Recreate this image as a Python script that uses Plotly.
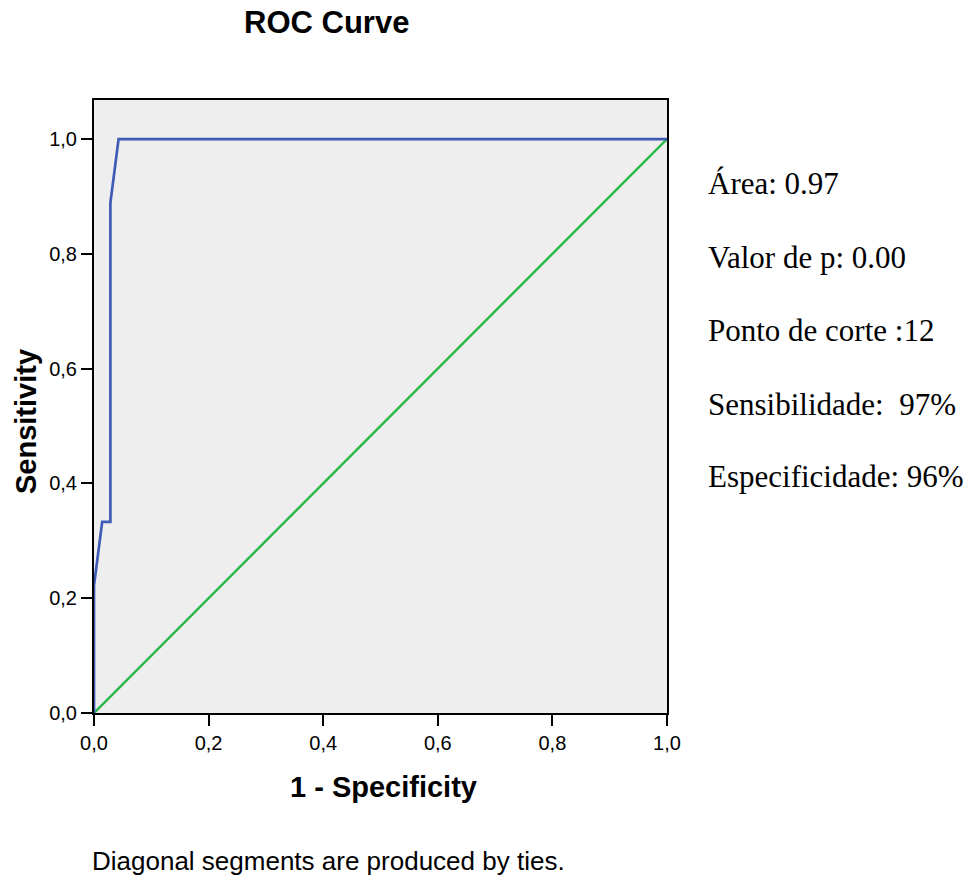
import plotly.graph_objects as go

# ROC curve data (1 - specificity, sensitivity)
roc_fpr = [0.0, 0.0, 0.0143, 0.0286, 0.0286, 0.0429, 1.0]
roc_tpr = [0.0, 0.222, 0.333, 0.333, 0.889, 1.0, 1.0]
ref_x = [0.0, 1.0]
ref_y = [0.0, 1.0]
tick_vals = [0.0, 0.2, 0.4, 0.6, 0.8, 1.0]
tick_text = ["0,0", "0,2", "0,4", "0,6", "0,8", "1,0"]
stats_lines = ["Área: 0.97", "Valor de p: 0.00", "Ponto de corte :12",
               "Sensibilidade:  97%", "Especificidade: 96%"]

fig = go.Figure()
fig.add_trace(go.Scatter(x=ref_x, y=ref_y, mode="lines",
                         line=dict(color="#2DB84A", width=2.5), showlegend=False,
                         hoverinfo="skip"))
fig.add_trace(go.Scatter(x=roc_fpr, y=roc_tpr, mode="lines",
                         line=dict(color="#3F5BB5", width=2.7), showlegend=False))

axis_common = dict(showline=True, linecolor="black", linewidth=2, mirror=True,
                   ticks="outside", ticklen=11, tickwidth=2, tickcolor="black",
                   showgrid=False, zeroline=False,
                   tickvals=tick_vals, ticktext=tick_text,
                   tickfont=dict(family="Arial, Liberation Sans", size=20, color="black"))

fig.update_layout(
    width=972, height=879,
    margin=dict(l=94, r=305, t=100, b=166),
    paper_bgcolor="white", plot_bgcolor="#EEEEEE",
    xaxis=dict(range=[0, 1], **axis_common),
    yaxis=dict(range=[0, 1.068], **axis_common),
)

annotations = [
    dict(text="<b>ROC Curve</b>", x=326, y=879 - 23,
         font=dict(family="Arial, Liberation Sans", size=31, color="black")),
    dict(text="<b>1 - Specificity</b>", x=383, y=879 - 787,
         font=dict(family="Arial, Liberation Sans", size=29, color="black")),
    dict(text="<b>Sensitivity</b>", x=26, y=879 - 422, textangle=-90,
         font=dict(family="Arial, Liberation Sans", size=29, color="black")),
    dict(text="Diagonal segments are produced by ties.", x=90, y=879 - 861,
         xanchor="left", font=dict(family="Arial, Liberation Sans", size=26, color="black")),
]
line_y = [183, 257, 330, 404, 476]
for txt, yy in zip(stats_lines, line_y):
    annotations.append(dict(text=txt, x=706, y=879 - yy, xanchor="left",
                            font=dict(family="Liberation Serif, Times New Roman", size=31,
                                      color="black")))

# convert pixel positions to paper coordinates
pw, ph = 972 - 94 - 305, 879 - 100 - 166
for a in annotations:
    a["xref"] = "paper"
    a["yref"] = "paper"
    a["showarrow"] = False
    a.setdefault("xanchor", "center")
    a["yanchor"] = "middle"
    a["x"] = (a["x"] - 94) / pw
    a["y"] = (a["y"] - 166) / ph
fig.update_layout(annotations=annotations)

fig.write_html("out.html")
